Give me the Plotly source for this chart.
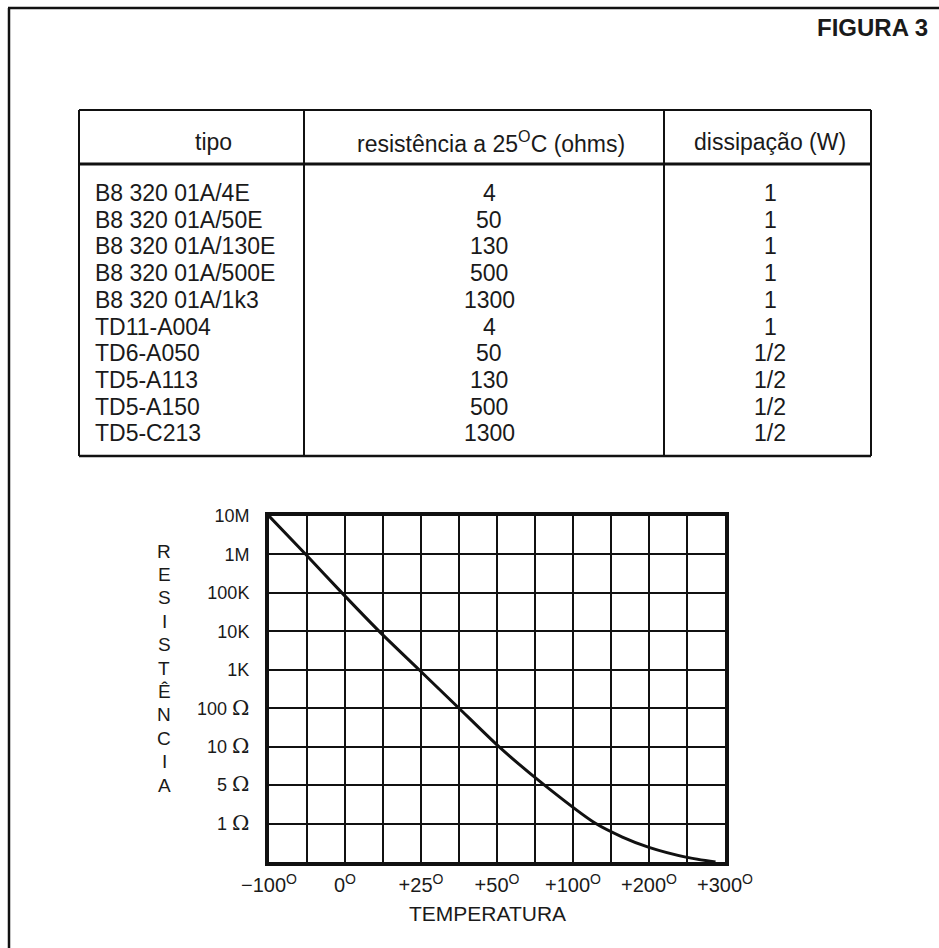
import plotly.graph_objects as go

W, H = 939, 948

# table data
tipos = [
    "B8 320 01A/4E", "B8 320 01A/50E", "B8 320 01A/130E", "B8 320 01A/500E",
    "B8 320 01A/1k3", "TD11-A004", "TD6-A050", "TD5-A113", "TD5-A150", "TD5-C213",
]
resistencias = ["4", "50", "130", "500", "1300", "4", "50", "130", "500", "1300"]
dissipacoes = ["1", "1", "1", "1", "1", "1", "1/2", "1/2", "1/2", "1/2"]
headers = ["tipo", "resistência a 25<sup>O</sup>C (ohms)", "dissipação (W)"]

# graph data: x = grid column (temperature scale), y = grid row (resistance scale)
temp_ticks = [0, 2, 4, 6, 8, 10, 12]
temp_labels = ["−100<sup>O</sup>", "0<sup>O</sup>", "+25<sup>O</sup>", "+50<sup>O</sup>",
               "+100<sup>O</sup>", "+200<sup>O</sup>", "+300<sup>O</sup>"]
OHM = " <span style='font-family:DejaVu Serif;font-size:21px'>Ω</span>"
res_ticks = [0, 1, 2, 3, 4, 5, 6, 7, 8]
res_labels = ["10M", "1M", "100K", "10K", "1K", "100" + OHM, "10" + OHM, "5" + OHM, "1" + OHM]
curve_temp_pos = [0, 0.97, 1.92, 2.9, 3.95, 5.0, 6.05, 7.25, 8.6, 9.3, 10, 11, 11.75]
curve_res_level = [0, 1, 2, 3, 4, 5, 6, 7, 8, 8.35, 8.62, 8.88, 9.0]

FONT = "Liberation Sans, Arial, sans-serif"


def px(x):
    return x / W


def py(y):
    return 1 - y / H


fig = go.Figure()
fig.add_trace(go.Scatter(
    x=curve_temp_pos, y=curve_res_level, mode="lines",
    line=dict(color="#111", width=3, shape="spline", smoothing=0.6),
    hoverinfo="skip", showlegend=False,
))

shapes = []
annotations = []


def hline(x0, x1, y, w=2.5):
    shapes.append(dict(type="line", xref="paper", yref="paper",
                       x0=px(x0), x1=px(x1), y0=py(y), y1=py(y),
                       line=dict(color="#111", width=w)))


def vline(x, y0, y1, w=2.5):
    shapes.append(dict(type="line", xref="paper", yref="paper",
                       x0=px(x), x1=px(x), y0=py(y0), y1=py(y1),
                       line=dict(color="#111", width=w)))


def text(x, y, s, size=23, xanchor="center"):
    annotations.append(dict(xref="paper", yref="paper", x=px(x), y=py(y), text=s,
                            showarrow=False, xanchor=xanchor, yanchor="middle",
                            font=dict(family=FONT, size=size, color="#1a1a1a")))


# page frame
hline(8, W, 8, 2.5)
vline(9, 8, H, 2.5)
text(930, 28, "<b>FIGURA 3</b>", size=24, xanchor="right")

# table frame
tl, tr, tt, th, tb = 79, 871, 110, 164, 456
c1, c2 = 304, 664
hline(tl, tr, tt, 2)
hline(tl, tr, th, 3)
hline(tl, tr, tb, 2.5)
vline(tl, tt, tb, 2)
vline(tr, tt, tb, 2)
vline(c1, tt, tb, 2)
vline(c2, tt, tb, 2)

text(213, 142, headers[0])
text(491, 142, headers[1])
text(770, 142, headers[2])
row_y0, row_dy = 193, 26.7
for i, (t, r, d) in enumerate(zip(tipos, resistencias, dissipacoes)):
    y = row_y0 + i * row_dy
    text(93, y, t, xanchor="left")
    text(489, y, r)
    text(770, y, d)

# vertical axis title, stacked letters
for i, ch in enumerate("RESISTÊNCIA"):
    text(164, 551 + i * 23.4, ch, size=19)
text(487, 913, "TEMPERATURA", size=21)

axis_common = dict(
    showgrid=True, gridcolor="#111", gridwidth=2,
    showline=True, linecolor="#111", linewidth=4, mirror=True,
    zeroline=False, ticks="", automargin=False, fixedrange=True,
    minor=dict(dtick=1, tick0=0, showgrid=True, gridcolor="#111", gridwidth=2),
)

fig.update_layout(
    template="none",
    width=W, height=H, margin=dict(l=0, r=0, t=0, b=0, autoexpand=False),
    paper_bgcolor="white", plot_bgcolor="white",
    shapes=shapes, annotations=annotations, showlegend=False,
    font=dict(family=FONT, color="#1a1a1a"),
    xaxis=dict(domain=[px(269), px(725)], range=[0, 12],
               tickvals=temp_ticks, ticktext=temp_labels,
               ticklabelstandoff=2, tickfont=dict(size=20), **axis_common),
    yaxis=dict(domain=[py(862), py(516)], range=[9, 0],
               tickvals=res_ticks, ticktext=res_labels,
               ticklabelstandoff=12, tickfont=dict(size=18), **axis_common),
)

fig.write_html("out.html", config={"displayModeBar": False},
               post_script="document.body.style.margin='0';")
